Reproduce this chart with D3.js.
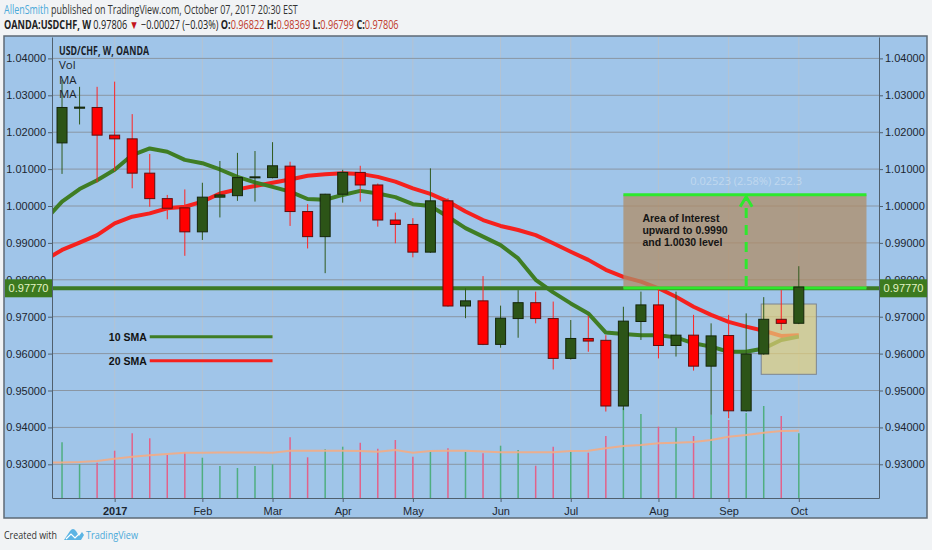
<!DOCTYPE html>
<html>
<head>
<meta charset="utf-8">
<script src="https://cdnjs.cloudflare.com/ajax/libs/d3/7.8.5/d3.min.js"></script>
<style>
  html, body { margin: 0; padding: 0; background: #f1f3f5; }
  svg { display: block; font-family: "Liberation Sans", Arial, sans-serif; }
</style>
</head>
<body>
<svg id="chart" width="932" height="550"></svg>
<script>
// weekly OANDA USD/CHF bars, Dec 2016 - Oct 2017
var weeks = ["2016-12-11","2016-12-18","2016-12-25","2017-01-01","2017-01-08","2017-01-15","2017-01-22","2017-01-29",
  "2017-02-05","2017-02-12","2017-02-19","2017-02-26","2017-03-05","2017-03-12","2017-03-19","2017-03-26",
  "2017-04-02","2017-04-09","2017-04-16","2017-04-23","2017-04-30","2017-05-07","2017-05-14","2017-05-21",
  "2017-05-28","2017-06-04","2017-06-11","2017-06-18","2017-06-25","2017-07-02","2017-07-09","2017-07-16",
  "2017-07-23","2017-07-30","2017-08-06","2017-08-13","2017-08-20","2017-08-27","2017-09-03","2017-09-10",
  "2017-09-17","2017-09-24","2017-10-01"];
var opens  = [1.0171,1.0265,1.0267,1.0192,1.0182,1.0089,1.0020,0.9995,0.9930,1.0024,1.0028,1.0077,1.0077,1.0108,0.9985,0.9917,
  1.0032,1.0091,1.0057,0.9962,0.9950,0.9875,1.0014,0.9729,0.9743,0.9625,0.9695,0.9738,0.9695,0.9587,0.9641,0.9636,
  0.9458,0.9687,0.9732,0.9622,0.9650,0.9566,0.9649,0.9445,0.9599,0.9693,0.96822];
var highs  = [1.0342,1.0323,1.0323,1.0337,1.0249,1.0141,1.0030,1.0045,1.0063,1.0122,1.0144,1.0149,1.0173,1.0120,1.0005,1.0033,
  1.0098,1.0109,1.0061,0.9982,0.9967,1.0102,1.0021,0.9777,0.9810,0.9730,0.9772,0.9768,0.9741,0.9691,0.9702,0.9650,
  0.9727,0.9768,0.9774,0.9768,0.9705,0.9682,0.9705,0.9709,0.9753,0.9772,0.98369];
var lows   = [1.0087,1.0221,1.0064,1.0095,1.0048,0.9998,0.9964,0.9865,0.9908,0.9969,1.0014,1.0012,1.0075,0.9946,0.9885,0.9818,
  1.0009,1.0012,0.9944,0.9899,0.9861,0.9873,0.9727,0.9696,0.9623,0.9616,0.9643,0.9682,0.9557,0.9584,0.9605,0.9443,
  0.9447,0.9637,0.9587,0.9592,0.9554,0.9434,0.9425,0.9443,0.9597,0.9664,0.96799];
var closes = [1.0267,1.0268,1.0192,1.0182,1.0089,1.0020,0.9994,0.9930,1.0024,1.0030,1.0077,1.0079,1.0109,0.9985,0.9917,1.0032,
  1.0091,1.0057,0.9962,0.9950,0.9875,1.0014,0.9729,0.9743,0.9625,0.9696,0.9738,0.9695,0.9587,0.9641,0.9634,0.9458,
  0.9688,0.9732,0.9622,0.9650,0.9566,0.9648,0.9445,0.9599,0.9693,0.9682,0.97806];
var volumes = [55.7,34,35.3,47.3,64.7,59.7,43,46,40.3,32,30,32,33.7,60.7,40.7,48.7,
  51.3,55.3,49.3,58,41.3,46.3,49.7,46,44.7,52.3,48,32.3,51.3,46.3,45.3,62,
  90,84,71.3,70.3,62,83,78,85,92,82,64.7];

// moving averages (one extra week on the left, clipped by the plot)
var maWeeks = ["2016-12-04"].concat(weeks);
var sma10 = [0.9960,1.0012,1.0046,1.0070,1.0098,1.0138,1.0156,1.0147,1.0125,1.0116,1.0099,1.0079,1.0064,1.0052,1.0039,1.0019,1.0017,
  1.0030,1.0041,1.0034,1.0024,1.0005,1.0000,0.9971,0.9940,0.9917,0.9894,0.9858,0.9800,0.9766,0.9736,0.9709,0.9657,
  0.9653,0.9650,0.9650,0.9644,0.9628,0.9619,0.9605,0.9605,0.9614,0.9637,0.9646];
var sma20 = [0.9853,0.9881,0.9901,0.9921,0.9953,0.9971,0.9980,0.9994,0.9998,1.0012,1.0034,1.0045,1.0054,1.0063,1.0072,1.0082,1.0086,
  1.0089,1.0087,1.0079,1.0066,1.0048,1.0033,1.0012,0.9985,0.9962,0.9946,0.9935,0.9921,0.9899,0.9876,0.9854,0.9827,
  0.9808,0.9795,0.9777,0.9754,0.9727,0.9705,0.9686,0.9673,0.9662,0.9648,0.9650];
var volMA = [35.5,35.5,36,37,39.3,41.3,42.7,44,45.3,45.3,45.5,45.5,45.5,45.3,47.3,47.3,47.3,
  47.3,47,46.3,48,45.3,47,47.3,47.3,46.5,45.7,45.7,45.7,45.7,47,47.3,49.7,
  52,53,54.7,55.3,56,58,61.3,63,65.3,67,67.3];

var priceTicks = [0.93,0.94,0.95,0.96,0.97,0.98,0.99,1.00,1.01,1.02,1.03,1.04];
var monthTicks = ["2017-01-01","2017-02-05","2017-03-05","2017-04-02","2017-04-30","2017-06-04","2017-07-02","2017-08-06","2017-09-03","2017-10-01"];
var monthLabels = ["2017","Feb","Mar","Apr","May","Jun","Jul","Aug","Sep","Oct"];

// drawings
var levelPrice = 0.97770;
var zoneLow = 0.97780, zoneHigh = 1.00303, zoneFrom = "2017-07-23", zoneTo = "2017-10-28";
var zoneLabel = "0.02523 (2.58%) 252.3";
var arrowWeek = "2017-09-10";
var noteLines = ["Area of Interest", "upward to 0.9990", "and 1.0030 level"];
var boxHigh = 0.97344, boxLow = 0.95439, boxFrom = "2017-09-16", boxTo = "2017-10-08";
var legendNames = ["10 SMA", "20 SMA"], legendPrices = [0.96458, 0.95806], legendFrom = "2017-01-15", legendTo = "2017-03-05";

// header pieces: text, colour, bold
var headLine1 = [["AllenSmith", "#4aa9d9", false],
  [" published on TradingView.com, October 07, 2017 20:30 EST", "#333", false]];
var headLine2 = [["OANDA:USDCHF, W", "#222", true], [" 0.97806 ", "#222", false],
  ["\u25BC", "#c4141c", false], [" \u22120.00027 (\u22120.03%) ", "#222", false],
  ["O:", "#222", true], ["0.96822", "#c0392b", false],
  [" H:", "#222", true], ["0.98369", "#c0392b", false],
  [" L:", "#222", true], ["0.96799", "#c0392b", false],
  [" C:", "#222", true], ["0.97806", "#c0392b", false]];

var parse = d3.timeParse("%Y-%m-%d");
var svg = d3.select("#chart");
var plotL = 52, plotR = 879, plotT = 37, plotB = 498;

var x = d3.scaleTime().domain([parse("2016-12-07"), parse("2017-11-02")]).range([plotL, plotR]);
var y = d3.scaleLinear().domain([0.92087, 1.04580]).range([plotB, plotT]);
var yVol = d3.scaleLinear().domain([0, 100]).range([plotB, plotB - 100]);

var bars = weeks.map(function(w, i) {
  return {date: parse(w), o: opens[i], h: highs[i], l: lows[i], c: closes[i], v: volumes[i]};
});

// header: laid out naturally, then squeezed horizontally to the reference width
[[headLine1, 14, 294], [headLine2, 29, 395]].forEach(function(line) {
  var g = svg.append("g");
  var t = g.append("text").attr("x", 0).attr("y", 0)
    .style("font-family", "'Open Sans', sans-serif").style("font-size", "12px").style("white-space", "pre");
  line[0].forEach(function(p) {
    t.append("tspan").attr("fill", p[1]).style("font-weight", p[2] ? "bold" : "normal").text(p[0]);
  });
  var len = t.node().getComputedTextLength();
  g.attr("transform", "translate(4," + line[1] + ") scale(" + (line[2] / len) + ",1)");
});

// frame
svg.append("rect").attr("x", 4).attr("y", 36).attr("width", 923).attr("height", 482)
  .attr("fill", "#a0c5e9").attr("stroke", "#5d6a75").attr("stroke-width", 1.5);

svg.append("clipPath").attr("id", "plot").append("rect")
  .attr("x", plotL).attr("y", plotT).attr("width", plotR - plotL).attr("height", plotB - plotT);

// grid
svg.append("g").selectAll("line").data(monthTicks).join("line")
  .attr("x1", function(d) { return x(parse(d)); }).attr("x2", function(d) { return x(parse(d)); })
  .attr("y1", plotT).attr("y2", plotB).attr("stroke", "#b4c3d2").attr("stroke-width", 1);
svg.append("g").selectAll("line").data(priceTicks).join("line")
  .attr("x1", plotL).attr("x2", plotR).attr("y1", function(d) { return y(d); }).attr("y2", function(d) { return y(d); })
  .attr("stroke", "#8a96a3").attr("stroke-width", 1);

var plot = svg.append("g").attr("clip-path", "url(#plot)");

// volume
plot.append("g").selectAll("line").data(bars).join("line")
  .attr("x1", function(d) { return x(d.date); }).attr("x2", function(d) { return x(d.date); })
  .attr("y1", yVol(0)).attr("y2", function(d) { return yVol(d.v); })
  .attr("stroke", function(d) { return d.c >= d.o ? "#4fae80" : "#e2628a"; }).attr("stroke-width", 1.5);

var maLine = function(vals, scale) {
  return d3.line().x(function(d, i) { return x(parse(maWeeks[i])); }).y(function(d) { return scale(d); })(vals);
};
plot.append("path").attr("d", maLine(volMA, yVol)).attr("fill", "none")
  .attr("stroke", "#f3ab84").attr("stroke-width", 2).attr("opacity", 0.9);

plot.append("path").attr("d", maLine(sma20, y)).attr("fill", "none")
  .attr("stroke", "#f5211e").attr("stroke-width", 4).attr("stroke-linejoin", "round");
plot.append("path").attr("d", maLine(sma10, y)).attr("fill", "none")
  .attr("stroke", "#3f7d24").attr("stroke-width", 4).attr("stroke-linejoin", "round");

// horizontal level
plot.append("line").attr("x1", plotL).attr("x2", plotR).attr("y1", y(levelPrice)).attr("y2", y(levelPrice))
  .attr("stroke", "#3c7a26").attr("stroke-width", 4);

// zone of interest
var zx0 = x(parse(zoneFrom)), zx1 = x(parse(zoneTo));
plot.append("rect").attr("x", zx0).attr("y", y(zoneHigh)).attr("width", zx1 - zx0).attr("height", y(zoneLow) - y(zoneHigh))
  .attr("fill", "#b08c66").attr("opacity", 0.75);
plot.selectAll(".zl").data([zoneLow, zoneHigh]).join("line").attr("class", "zl")
  .attr("x1", zx0).attr("x2", zx1).attr("y1", function(d) { return y(d); }).attr("y2", function(d) { return y(d); })
  .attr("stroke", "#2ee82e").attr("stroke-width", 3);
var ax = x(parse(arrowWeek));
plot.append("line").attr("x1", ax).attr("x2", ax).attr("y1", y(zoneLow) - 2).attr("y2", y(zoneHigh) + 2)
  .attr("stroke", "#2ee82e").attr("stroke-width", 3).attr("stroke-dasharray", "10,7");
plot.append("path").attr("d", "M" + (ax - 6) + "," + (y(zoneHigh) + 12) + "L" + ax + "," + (y(zoneHigh) + 2) + "L" + (ax + 6) + "," + (y(zoneHigh) + 12))
  .attr("fill", "none").attr("stroke", "#2ee82e").attr("stroke-width", 3);
svg.append("text").attr("x", ax).attr("y", y(zoneHigh) - 10).attr("text-anchor", "middle")
  .style("font-family", "'Open Sans', sans-serif").style("font-size", "11px").attr("fill", "#dbe8f5").attr("opacity", 0.55)
  .text(zoneLabel);
svg.append("g").selectAll("text").data(noteLines).join("text")
  .attr("x", zx0 + 19).attr("y", function(d, i) { return y(zoneHigh) + 27 + i * 12; })
  .style("font-size", "10.5px").style("font-weight", "bold").attr("fill", "#151515").text(function(d) { return d; });

// small box
var bx0 = x(parse(boxFrom)), bx1 = x(parse(boxTo));
plot.append("rect").attr("x", bx0).attr("y", y(boxHigh)).attr("width", bx1 - bx0).attr("height", y(boxLow) - y(boxHigh))
  .attr("fill", "#e3cf7a").attr("fill-opacity", 0.7).attr("stroke", "#7d8590").attr("stroke-width", 1);

// candles
var bw = 10;
var candle = plot.append("g").selectAll("g").data(bars).join("g");
candle.append("line")
  .attr("x1", function(d) { return x(d.date); }).attr("x2", function(d) { return x(d.date); })
  .attr("y1", function(d) { return y(d.h); }).attr("y2", function(d) { return y(d.l); })
  .attr("stroke", function(d) { return d.c >= d.o ? "#2f5a1e" : "#ff2424"; }).attr("stroke-width", 1);
candle.append("rect")
  .attr("x", function(d) { return x(d.date) - bw / 2; }).attr("width", bw)
  .attr("y", function(d) { return y(Math.max(d.o, d.c)); })
  .attr("height", function(d) { return Math.max(1, Math.abs(y(d.o) - y(d.c))); })
  .attr("fill", function(d) { return d.c >= d.o ? "#2c5417" : "#ff0000"; })
  .attr("stroke", function(d) { return d.c >= d.o ? "#15260b" : "#5e1010"; }).attr("stroke-width", 1);

// axes
var fmt = d3.format(".5f");
var axisStyle = function(g) {
  g.select(".domain").attr("stroke", "#50606e");
  g.selectAll(".tick line").attr("stroke", "#50606e");
  g.selectAll(".tick text").attr("fill", "#1c2630").style("font-size", "11px")
    .style("font-family", "'Liberation Sans', Arial, sans-serif");
};
svg.append("g").attr("transform", "translate(" + plotL + ",0)")
  .call(d3.axisLeft(y).tickValues(priceTicks).tickFormat(fmt).tickSize(4).tickSizeOuter(0).tickPadding(2)).call(axisStyle);
svg.append("g").attr("transform", "translate(" + plotR + ",0)")
  .call(d3.axisRight(y).tickValues(priceTicks).tickFormat(fmt).tickSize(4).tickSizeOuter(0).tickPadding(2)).call(axisStyle);
var xAxis = svg.append("g").attr("transform", "translate(0," + plotB + ")")
  .call(d3.axisBottom(x).tickValues(monthTicks.map(parse)).tickFormat(function(d, i) { return monthLabels[i]; })
    .tickSize(4).tickSizeOuter(0).tickPadding(5)).call(axisStyle);
xAxis.selectAll(".tick text").filter(function(d, i) { return i === 0; }).style("font-weight", "bold");

// price tags for the level
[5, plotR + 1].forEach(function(tx) {
  var g = svg.append("g");
  g.append("rect").attr("x", tx).attr("y", y(levelPrice) - 9).attr("width", 47).attr("height", 18).attr("fill", "#3c7a1f");
  g.append("text").attr("x", tx + 23.5).attr("y", y(levelPrice) + 4).attr("text-anchor", "middle")
    .style("font-size", "11px").attr("fill", "#e4f4c6").text(fmt(levelPrice));
});

// legend drawing
legendNames.forEach(function(n, i) {
  var ly = y(legendPrices[i]);
  svg.append("line").attr("x1", x(parse(legendFrom))).attr("x2", x(parse(legendTo))).attr("y1", ly).attr("y2", ly)
    .attr("stroke", i ? "#f5211e" : "#3f7d24").attr("stroke-width", 3);
  svg.append("text").attr("x", x(parse(legendFrom)) - 3).attr("y", ly + 4).attr("text-anchor", "end")
    .style("font-size", "10.5px").style("font-weight", "bold").attr("fill", "#111").text(n);
});

// chart title and study names
svg.append("text").attr("x", 59).attr("y", 55).style("font-family", "'Open Sans', sans-serif")
  .style("font-size", "11.5px").style("font-weight", "bold").attr("fill", "#1a1f2a")
  .attr("textLength", 90).attr("lengthAdjust", "spacingAndGlyphs").text("USD/CHF, W, OANDA");
["Vol", "MA", "MA"].forEach(function(t, i) {
  svg.append("text").attr("x", 59).attr("y", 69 + i * 14.5).style("font-family", "'Open Sans', sans-serif")
    .style("font-size", "11.5px").attr("fill", "#1a1f2a").text(t);
});

// footer
svg.append("text").attr("x", 4).attr("y", 539).style("font-family", "'Open Sans', sans-serif").style("font-size", "11.5px")
  .attr("fill", "#333").attr("textLength", 53).attr("lengthAdjust", "spacingAndGlyphs").text("Created with");
svg.append("path").attr("d", "M64,540 L70,531 Q73,527 76,531 L79,536 L82,532 L84,535 L81,540 Z")
  .attr("fill", "#5bb4e4");
svg.append("path").attr("d", "M66,539 L71,534 L75,538 L80,533").attr("fill", "none").attr("stroke", "#ffffff").attr("stroke-width", 1.2);
svg.append("text").attr("x", 86).attr("y", 539).style("font-family", "'Open Sans', sans-serif").style("font-size", "11.5px")
  .attr("fill", "#4aa9d9").attr("textLength", 52).attr("lengthAdjust", "spacingAndGlyphs").text("TradingView");
</script>
</body>
</html>
